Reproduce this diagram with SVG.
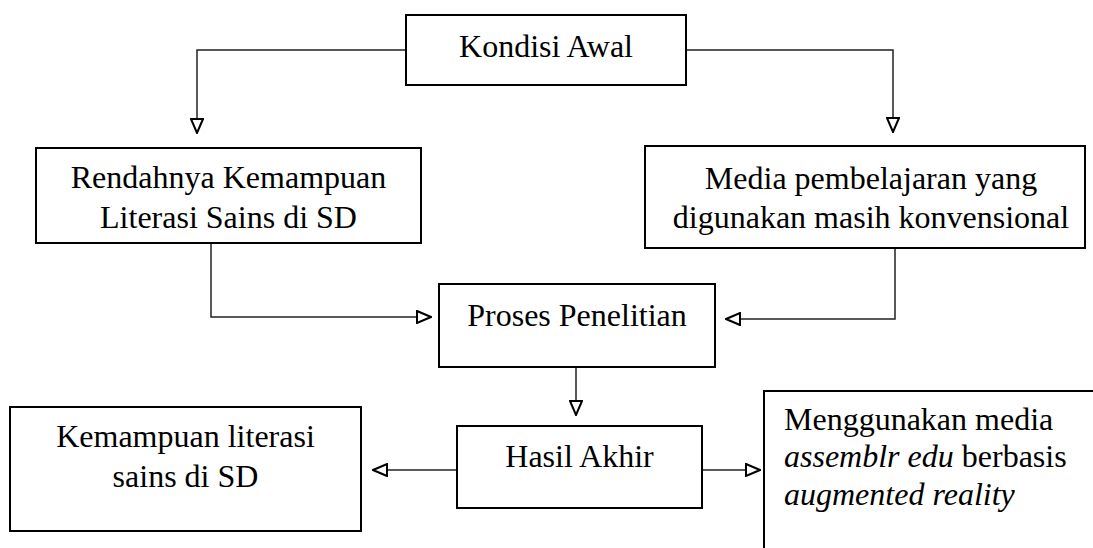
<svg xmlns="http://www.w3.org/2000/svg" width="1093" height="548" viewBox="0 0 1093 548">
<style>
.box{fill:#fff;stroke:#000;stroke-width:2}
.lbl{font-family:"Liberation Serif","Times New Roman",Times,serif;font-size:32px;fill:#000}
.c{text-anchor:middle}
.it{font-style:italic}
.con{fill:none;stroke:#222;stroke-width:1.5}
</style>
<defs>
<marker id="arr" markerUnits="userSpaceOnUse" viewBox="0 0 16 14" refX="15" refY="7" markerWidth="16" markerHeight="14" orient="auto">
<path d="M1,1 L15,7 L1,13 Z" fill="#fff" stroke="#000" stroke-width="2" stroke-linejoin="miter"/>
</marker>
</defs>
<rect width="1093" height="548" fill="#fff"/>
<g id="connectors">
<path class="con" d="M406,50 H197 V133" marker-end="url(#arr)"/>
<path class="con" d="M686,50 H893 V132" marker-end="url(#arr)"/>
<path class="con" d="M211,243 V317 H431" marker-end="url(#arr)"/>
<path class="con" d="M895,248 V319 H726" marker-end="url(#arr)"/>
<path class="con" d="M576,367 V415" marker-end="url(#arr)"/>
<path class="con" d="M457,470 H373" marker-end="url(#arr)"/>
<path class="con" d="M702,470 H760" marker-end="url(#arr)"/>
</g>
<g id="kondisi-awal">
<rect class="box" x="406" y="15" width="280" height="70"/>
<text class="lbl c" x="546" y="57">Kondisi Awal</text>
</g>
<g id="rendahnya">
<rect class="box" x="36" y="148" width="385" height="95"/>
<text class="lbl c" x="228.5" y="188">Rendahnya Kemampuan</text>
<text class="lbl c" x="228.5" y="228">Literasi Sains di SD</text>
</g>
<g id="media">
<rect class="box" x="645" y="146" width="440" height="102"/>
<text class="lbl c" x="871" y="189">Media pembelajaran yang</text>
<text class="lbl c" x="871" y="228">digunakan masih konvensional</text>
</g>
<g id="proses">
<rect class="box" x="439" y="284" width="276" height="83"/>
<text class="lbl c" x="577" y="326">Proses Penelitian</text>
</g>
<g id="hasil">
<rect class="box" x="457" y="426" width="245" height="82"/>
<text class="lbl c" x="579.5" y="467">Hasil Akhir</text>
</g>
<g id="kemampuan">
<rect class="box" x="10" y="407" width="351" height="124"/>
<text class="lbl c" x="185.5" y="447">Kemampuan literasi</text>
<text class="lbl c" x="185.5" y="487">sains di SD</text>
</g>
<g id="menggunakan">
<rect class="box" x="764" y="391" width="400" height="200"/>
<text class="lbl" x="784" y="430">Menggunakan media</text>
<text class="lbl" x="784" y="467"><tspan class="it">assemblr edu</tspan> berbasis</text>
<text class="lbl it" x="784" y="505">augmented reality</text>
</g>
</svg>
